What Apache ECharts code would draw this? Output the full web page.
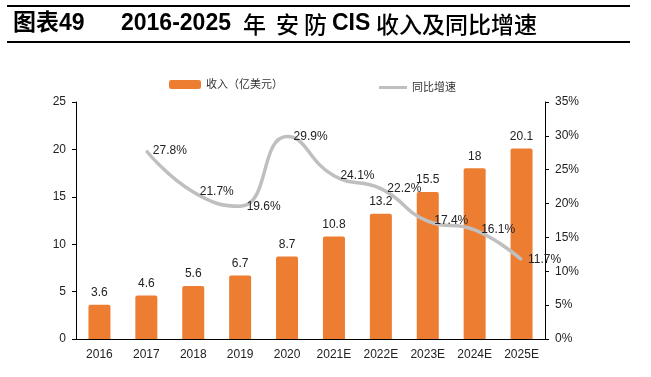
<!DOCTYPE html>
<html>
<head>
<meta charset="utf-8">
<script src="https://cdn.jsdelivr.net/npm/echarts@6/dist/echarts.min.js"></script>
<style>
  html, body { margin: 0; padding: 0; background: #fff; }
  #chart { width: 651px; height: 377px; }
</style>
</head>
<body>
<div id="chart"></div>
<script>
const years = ["2016", "2017", "2018", "2019", "2020", "2021E", "2022E", "2023E", "2024E", "2025E"];
const revenue = [3.6, 4.6, 5.6, 6.7, 8.7, 10.8, 13.2, 15.5, 18, 20.1];
const growth = ["-", 27.8, 21.7, 19.6, 29.9, 24.1, 22.2, 17.4, 16.1, 11.7];

const font = "'Liberation Sans', 'Noto Sans CJK SC', sans-serif";
const titleBold = "bold 23px 'Liberation Sans', 'Noto Sans CJK SC'";
const titleCjk = "500 23px 'Noto Sans CJK SC'";
const chart = echarts.init(document.getElementById("chart"));

// title pieces, positioned like the report heading
const titleParts = [
  { text: "图表49", x: 13, f: titleBold },
  { text: "2016-2025", x: 121, f: titleBold },
  { text: "年", x: 243, f: titleCjk },
  { text: "安", x: 276, f: titleCjk },
  { text: "防", x: 304, f: titleCjk },
  { text: "CIS", x: 332, f: titleBold },
  { text: "收入及同比增速", x: 376, f: titleCjk }
];

chart.setOption({
  animation: false,
  textStyle: { fontFamily: font },
  graphic: [
    { type: "rect", shape: { x: 7, y: 5, width: 623, height: 2 }, style: { fill: "#000" } },
    { type: "rect", shape: { x: 7, y: 41, width: 623, height: 2 }, style: { fill: "#000" } }
  ].concat(titleParts.map(t => ({
    type: "text", x: t.x, y: 24,
    style: { text: t.text, font: t.f, fill: "#000", textVerticalAlign: "middle" }
  }))),
  legend: [
    {
      data: ["收入（亿美元）"],
      left: 164, top: 74,
      itemWidth: 32, itemHeight: 9, itemGap: 4,
      textStyle: { fontSize: 11, color: "#333" }
    },
    {
      data: [{ name: "同比增速", icon: "rect", itemStyle: { color: "#BFBFBF", opacity: 1 } }],
      left: 374, top: 77,
      itemWidth: 28, itemHeight: 3,
      textStyle: { fontSize: 11, color: "#333" }
    }
  ],
  grid: { left: 76, right: 106, top: 102, bottom: 38 },
  xAxis: {
    type: "category",
    data: years,
    axisLine: { lineStyle: { color: "#000", width: 1 } },
    axisTick: { inside: true, length: 4, lineStyle: { color: "#000" } },
    axisLabel: { fontSize: 12, color: "#222", margin: 10 }
  },
  yAxis: [
    {
      type: "value", min: 0, max: 25, interval: 5,
      splitLine: { show: false },
      axisLine: { show: true, lineStyle: { color: "#000" } },
      axisTick: { show: true, length: 4, lineStyle: { color: "#000" } },
      axisLabel: { fontSize: 12, color: "#222", margin: 10 }
    },
    {
      type: "value", min: 0, max: 35, interval: 5,
      splitLine: { show: false },
      axisLine: { show: true, lineStyle: { color: "#000" } },
      axisTick: { show: true, length: 4, lineStyle: { color: "#000" } },
      axisLabel: { fontSize: 12, color: "#222", margin: 10, formatter: "{value}%" }
    }
  ],
  series: [
    {
      name: "收入（亿美元）",
      type: "bar",
      data: revenue,
      barWidth: 22,
      itemStyle: { color: "#ED7D31", borderRadius: [2, 2, 0, 0] },
      label: { show: true, position: "top", fontSize: 12, color: "#222", distance: 6 }
    },
    {
      name: "同比增速",
      type: "line",
      yAxisIndex: 1,
      data: growth,
      smooth: 0.5,
      showSymbol: true,
      symbol: "circle",
      symbolSize: 1,
      lineStyle: { color: "#BFBFBF", width: 3.5 },
      itemStyle: { color: "#BFBFBF" },
      label: {
        show: true, position: "right", distance: 6,
        fontSize: 12, color: "#222",
        formatter: p => p.value + "%"
      }
    }
  ]
});
</script>
</body>
</html>
